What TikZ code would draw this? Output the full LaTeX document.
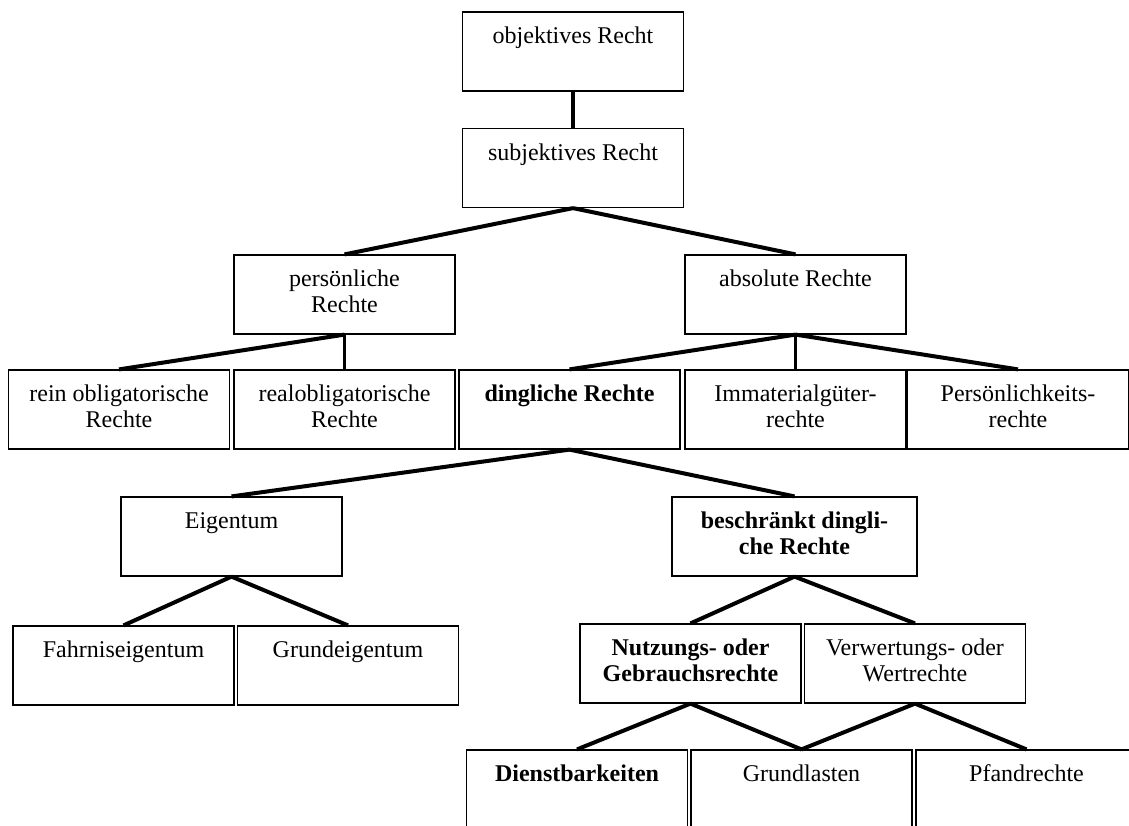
\documentclass[tikz,border=0pt]{standalone}
\usepackage{fontspec}
\setmainfont{Liberation Serif}
\begin{document}
\begin{tikzpicture}[x=1pt,y=-1pt]
\tikzset{
  box/.style={draw, line width=1.2pt, inner sep=0pt, minimum width=221pt, minimum height=79pt, align=center, font=\fontsize{24}{26}\selectfont},
  bbox/.style={box, font=\fontsize{24}{26}\selectfont\bfseries},
  conn/.style={line width=4pt}
}
\useasboundingbox (0,0) rectangle (1129,825);
\clip (0,0) rectangle (1129,825);
% boxes
\node[box] (obj) at (573,51.5) {\strut objektives Recht\\\strut};
\node[box] (subj) at (573,168) {\strut subjektives Recht\\\strut};
\node[box] (pers) at (344.5,294.5) {\strut persönliche\\\strut Rechte};
\node[box] (abs) at (795.5,294.5) {\strut absolute Rechte\\\strut};
\node[box] (rein) at (119,409.5) {\strut rein obligatorische\\\strut Rechte};
\node[box] (real) at (344.5,409.5) {\strut realobligatorische\\\strut Rechte};
\node[bbox] (ding) at (569.5,409.5) {\strut dingliche Rechte\\\strut};
\node[box] (imm) at (795.5,409.5) {\strut Immaterialgüter-\\\strut rechte};
\node[box] (pk) at (1018,409.5) {\strut Persönlichkeits-\\\strut rechte};
\node[box] (eig) at (231.5,536.5) {\strut Eigentum\\\strut};
\node[bbox, minimum width=245pt] (beschr) at (794.5,536.5) {\strut beschränkt dingli-\\\strut che Rechte};
\node[box] (fahr) at (123.5,665.5) {\strut Fahrniseigentum\\\strut};
\node[box] (grund) at (348,665.5) {\strut Grundeigentum\\\strut};
\node[bbox] (nutz) at (690.5,663.5) {\strut Nutzungs- oder\\\strut Gebrauchsrechte};
\node[box] (verw) at (915,663.5) {\strut Verwertungs- oder\\\strut Wertrechte};
\node[bbox] (dienst) at (577,789.5) {\strut Dienstbarkeiten\\\strut};
\node[box] (glast) at (801.5,789.5) {\strut Grundlasten\\\strut};
\node[box] (pfand) at (1026.5,789.5) {\strut Pfandrechte\\\strut};
% connectors
\draw[conn] (obj.south) -- (subj.north);
\draw[conn] (subj.south) -- (pers.north);
\draw[conn] (subj.south) -- (abs.north);
\draw[conn] (pers.south) -- (rein.north);
\draw[conn, line width=3pt] (pers.south) -- (real.north);
\draw[conn] (abs.south) -- (ding.north);
\draw[conn, line width=3pt] (abs.south) -- (imm.north);
\draw[conn] (abs.south) -- (pk.north);
\draw[conn] (ding.south) -- (eig.north);
\draw[conn] (ding.south) -- (beschr.north);
\draw[conn] (eig.south) -- (fahr.north);
\draw[conn] (eig.south) -- (grund.north);
\draw[conn] (beschr.south) -- (nutz.north);
\draw[conn] (beschr.south) -- (verw.north);
\draw[conn] (nutz.south) -- (dienst.north);
\draw[conn] (nutz.south) -- (glast.north);
\draw[conn] (verw.south) -- (glast.north);
\draw[conn] (verw.south) -- (pfand.north);
\end{tikzpicture}
\end{document}
